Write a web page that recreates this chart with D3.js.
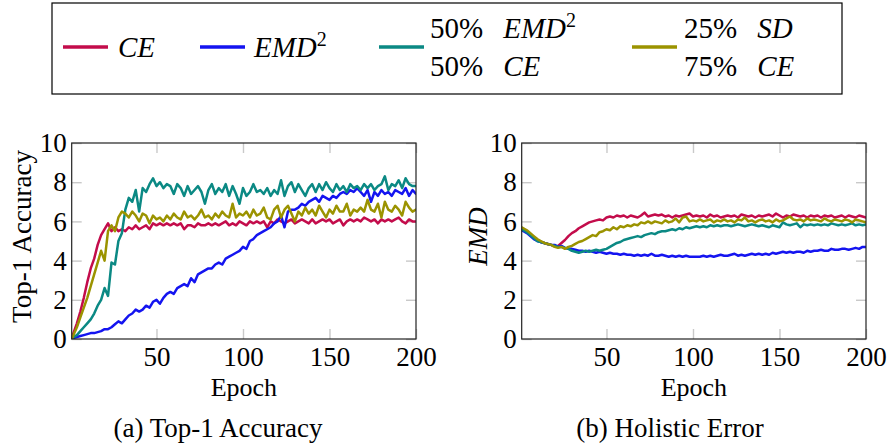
<!DOCTYPE html>
<html>
<head>
<meta charset="utf-8">
<script src="https://cdn.jsdelivr.net/npm/d3@7"></script>
<style>
  body { margin: 0; background: #fff; }
  svg { display: block; }
  text { font-family: "Liberation Serif", "Times New Roman", serif; fill: #000; }
</style>
</head>
<body>
<svg id="chart" width="888" height="446"></svg>
<script>
// Training epochs sampled for every curve
const epochs = [1].concat(d3.range(2, 201, 2));

const xTicks = [50, 100, 150, 200];
const yTicks = [0, 2, 4, 6, 8, 10];

// Top-1 accuracy per epoch
const accCE = [0.0,
  0.3,0.8,1.4,2.1,2.9,3.6,4.1,4.8,5.3,5.6,
  5.9,5.5,5.7,5.5,5.6,5.5,5.7,5.6,5.8,5.6,
  5.7,5.8,5.6,5.9,5.8,5.9,5.8,5.9,5.8,5.9,
  5.8,5.9,5.6,5.8,5.8,5.7,5.9,5.8,5.8,5.9,
  5.8,5.9,5.8,5.9,6.0,5.8,5.9,5.8,6.0,5.9,
  5.8,6.0,5.9,6.0,5.9,6.0,5.7,6.0,5.9,6.1,
  6.0,5.9,6.0,6.1,5.9,6.0,6.1,6.0,5.9,6.1,
  5.9,6.0,6.1,6.0,6.1,5.9,6.0,6.1,5.8,6.0,
  6.1,6.0,6.1,6.0,6.2,6.1,6.0,6.1,5.9,6.1,
  6.0,6.1,6.0,6.1,6.2,6.0,5.9,6.1,6.0,6.0];
const accEMD2 = [0.0,
  0.05,0.1,0.15,0.2,0.25,0.3,0.3,0.35,0.4,0.5,
  0.5,0.6,0.75,0.9,0.8,1.0,1.2,1.3,1.5,1.4,
  1.5,1.7,1.6,1.9,2.0,1.8,2.1,2.3,2.4,2.3,
  2.6,2.7,2.8,2.7,3.1,2.9,3.3,3.4,3.5,3.6,
  3.6,3.8,3.9,3.8,4.1,4.2,4.3,4.4,4.5,4.7,
  4.6,5.0,5.1,5.3,5.4,5.5,5.6,5.7,5.9,6.0,
  6.3,5.7,6.5,6.6,6.6,6.7,6.9,6.8,7.0,7.1,
  7.2,7.0,7.3,7.2,7.1,7.3,7.2,7.4,7.5,7.4,
  7.6,7.5,7.7,7.5,7.3,7.6,7.0,7.5,7.3,7.6,
  7.4,7.5,7.3,7.6,7.5,7.4,7.7,7.3,7.6,7.4];
const accMix50 = [0.0,
  0.1,0.2,0.4,0.6,0.8,1.0,1.3,1.7,2.0,2.6,
  2.2,3.9,3.8,5.0,5.4,6.6,7.2,7.0,7.6,6.5,
  7.7,7.5,7.9,8.2,7.8,8.0,7.7,7.9,7.8,7.4,
  7.9,7.7,7.3,7.8,7.4,7.6,7.8,7.5,6.9,7.6,
  7.9,7.4,7.7,7.5,7.9,7.3,7.8,7.4,6.9,7.7,
  7.3,7.5,7.9,7.5,7.6,7.4,7.7,7.3,7.6,7.4,
  8.1,7.3,7.8,8.0,7.5,7.9,7.6,7.3,7.7,7.9,
  7.5,7.9,7.6,8.0,7.7,7.5,7.9,7.6,7.8,7.5,
  7.9,7.7,7.8,7.6,7.9,7.7,7.9,7.6,7.8,7.9,
  8.3,7.6,7.9,7.8,8.1,7.7,8.2,7.9,7.8,7.8];
const accMix25 = [0.0,
  0.2,0.6,1.1,1.6,2.1,2.7,3.3,3.9,4.5,4.0,
  5.5,5.8,5.5,6.2,6.5,6.4,6.2,6.5,6.3,6.0,
  6.4,6.3,5.9,6.3,6.1,6.2,6.0,6.3,6.1,6.4,
  6.2,6.1,6.5,6.2,6.3,6.1,6.3,6.6,6.2,6.3,
  6.1,6.4,6.2,6.5,6.3,6.2,6.9,6.2,6.4,6.3,
  6.5,6.2,6.6,6.3,6.4,6.7,6.2,6.1,6.6,6.8,
  6.2,6.6,6.8,6.4,6.0,6.5,6.3,6.7,6.4,6.6,
  6.3,6.8,6.5,6.2,6.6,6.4,6.8,6.5,6.5,6.9,
  6.3,6.6,6.5,6.7,6.5,7.1,6.6,6.5,6.9,6.2,
  7.0,6.6,6.5,6.8,6.6,6.3,7.0,6.7,6.5,6.6];

// Holistic error (EMD) per epoch
const emdCE = [5.65,
  5.6,5.5,5.35,5.2,5.05,4.95,4.9,4.85,4.8,4.75,
  4.75,4.9,5.05,5.25,5.4,5.5,5.65,5.75,5.85,5.95,
  6.0,6.05,6.1,6.05,6.2,6.25,6.2,6.3,6.25,6.3,
  6.2,6.3,6.25,6.2,6.3,6.45,6.25,6.3,6.35,6.3,
  6.35,6.25,6.3,6.2,6.3,6.25,6.3,6.35,6.4,6.25,
  6.3,6.25,6.3,6.2,6.35,6.25,6.3,6.2,6.25,6.3,
  6.25,6.3,6.2,6.35,6.3,6.25,6.3,6.2,6.3,6.25,
  6.3,6.35,6.25,6.4,6.3,6.2,6.3,6.25,6.35,6.3,
  6.25,6.3,6.2,6.3,6.25,6.3,6.2,6.3,6.25,6.3,
  6.2,6.25,6.3,6.2,6.3,6.25,6.2,6.3,6.25,6.2];
const emdEMD2 = [5.55,
  5.5,5.4,5.25,5.1,5.0,4.95,4.9,4.85,4.8,4.8,
  4.7,4.75,4.65,4.6,4.6,4.55,4.5,4.5,4.45,4.5,
  4.45,4.4,4.45,4.4,4.35,4.4,4.35,4.35,4.3,4.35,
  4.3,4.3,4.25,4.3,4.25,4.3,4.25,4.35,4.25,4.25,
  4.3,4.25,4.2,4.25,4.2,4.25,4.2,4.25,4.2,4.2,
  4.2,4.2,4.25,4.2,4.25,4.2,4.25,4.3,4.25,4.25,
  4.3,4.35,4.25,4.3,4.25,4.3,4.35,4.3,4.35,4.3,
  4.35,4.3,4.4,4.35,4.4,4.45,4.4,4.45,4.4,4.45,
  4.45,4.4,4.5,4.45,4.5,4.5,4.55,4.5,4.5,4.6,
  4.55,4.55,4.6,4.6,4.55,4.6,4.65,4.6,4.7,4.7];
const emdMix50 = [5.6,
  5.55,5.45,5.3,5.15,5.0,4.95,4.9,4.85,4.8,4.75,
  4.7,4.7,4.65,4.6,4.5,4.45,4.4,4.45,4.5,4.45,
  4.5,4.55,4.5,4.55,4.6,4.7,4.8,4.9,4.95,5.05,
  5.1,5.15,5.2,5.25,5.2,5.3,5.35,5.4,5.35,5.45,
  5.5,5.5,5.55,5.6,5.55,5.65,5.6,5.7,5.65,5.7,
  5.75,5.7,5.75,5.7,5.8,5.75,5.8,5.75,5.8,5.8,
  5.75,5.8,5.85,5.8,5.75,5.8,5.85,5.8,5.75,5.8,
  5.75,5.7,5.8,5.75,5.7,5.95,5.85,5.8,5.85,5.9,
  5.7,5.85,5.8,5.85,5.8,5.85,5.8,5.85,5.8,5.9,
  5.85,5.8,5.85,5.8,5.85,5.9,5.8,5.85,5.8,5.85];
const emdMix25 = [5.7,
  5.65,5.55,5.4,5.25,5.1,5.0,4.9,4.85,4.8,4.7,
  4.65,4.7,4.6,4.7,4.75,4.85,4.95,5.0,5.1,5.2,
  5.3,5.25,5.45,5.5,5.6,5.55,5.7,5.6,5.75,5.7,
  5.8,5.75,5.85,5.8,5.95,5.9,6.0,5.9,6.0,5.95,
  5.9,6.05,5.95,6.0,6.15,5.95,6.2,6.25,6.0,6.05,
  6.0,6.1,6.0,6.05,6.1,5.95,6.05,6.0,6.1,6.0,
  6.05,5.95,6.1,6.05,6.2,6.0,6.05,5.95,6.05,6.1,
  6.0,6.05,5.95,6.1,6.0,6.05,6.15,6.25,6.1,6.05,
  6.1,6.0,6.15,6.05,6.1,6.05,6.0,6.15,6.05,6.0,
  6.1,6.05,6.0,6.1,6.05,5.95,6.1,6.05,6.0,5.95];

const colors = { ce: "#c30c4b", emd2: "#1414f0", mix50: "#0b8984", mix25: "#9b9300" };
const serif = "'Liberation Serif', 'Times New Roman', serif";

const svg = d3.select("#chart").style("font-family", serif);
const plotTop = 143, plotBottom = 339;
const fontSize = 27;

const panels = [
  { id: "acc", left: 71.7, right: 416, label: "Top-1 Accuracy", italic: false, labelX: 31,
    caption: "(a) Top-1 Accuracy", captionX: 218,
    series: [["ce", accCE], ["emd2", accEMD2], ["mix50", accMix50], ["mix25", accMix25]] },
  { id: "emd", left: 521.7, right: 866, label: "EMD", italic: true, labelX: 487,
    caption: "(b) Holistic Error", captionX: 670,
    series: [["ce", emdCE], ["emd2", emdEMD2], ["mix50", emdMix50], ["mix25", emdMix25]] }
];

function styleTicks(sel) {
  sel.select(".domain").remove();
  sel.selectAll("line").attr("stroke", "#c9c9c9").attr("stroke-width", 1.4);
}
function styleLabels(sel) {
  sel.select(".domain").remove();
  sel.selectAll("line").remove();
  sel.attr("font-family", serif).attr("font-size", fontSize);
  sel.selectAll("text").style("font-family", serif);
}

panels.forEach(p => {
  const x = d3.scaleLinear().domain([1, 200]).range([p.left, p.right]);
  const y = d3.scaleLinear().domain([0, 10]).range([plotBottom, plotTop]);
  const g = svg.append("g");

  // light inner tick marks on all four sides
  g.append("g").attr("transform", `translate(0,${plotBottom})`)
    .call(d3.axisBottom(x).tickValues(xTicks).tickSize(-10).tickFormat("")).call(styleTicks);
  g.append("g").attr("transform", `translate(0,${plotTop})`)
    .call(d3.axisTop(x).tickValues(xTicks).tickSize(-10).tickFormat("")).call(styleTicks);
  g.append("g").attr("transform", `translate(${p.left},0)`)
    .call(d3.axisLeft(y).tickValues(yTicks).tickSize(-10).tickFormat("")).call(styleTicks);
  g.append("g").attr("transform", `translate(${p.right},0)`)
    .call(d3.axisRight(y).tickValues(yTicks).tickSize(-10).tickFormat("")).call(styleTicks);

  // curves, clipped to the plot box
  const clipId = "clip-" + p.id;
  svg.append("clipPath").attr("id", clipId).append("rect")
    .attr("x", p.left).attr("y", plotTop).attr("width", p.right - p.left).attr("height", plotBottom - plotTop);
  const line = d3.line().x((d, i) => x(epochs[i])).y(d => y(d));
  const lines = g.append("g").attr("clip-path", `url(#${clipId})`);
  p.series.forEach(([key, vals]) => {
    lines.append("path").datum(vals)
      .attr("d", line)
      .attr("fill", "none")
      .attr("stroke", colors[key])
      .attr("stroke-width", 2.5)
      .attr("stroke-linejoin", "round")
      .attr("stroke-linecap", "round");
  });

  // frame
  g.append("rect").attr("x", p.left).attr("y", plotTop)
    .attr("width", p.right - p.left).attr("height", plotBottom - plotTop)
    .attr("fill", "none").attr("stroke", "#222").attr("stroke-width", 1.2);

  // tick labels
  g.append("g").attr("transform", `translate(0,${plotBottom})`)
    .call(d3.axisBottom(x).tickValues(xTicks).tickSize(0).tickPadding(8)).call(styleLabels);
  g.append("g").attr("transform", `translate(${p.left},0)`)
    .call(d3.axisLeft(y).tickValues(yTicks).tickSize(0).tickPadding(5)).call(styleLabels);

  // axis titles
  g.append("text").attr("x", (p.left + p.right) / 2).attr("y", 396)
    .attr("text-anchor", "middle").attr("font-size", 26).text("Epoch");
  g.append("text")
    .attr("transform", `translate(${p.labelX},${(plotTop + 330) / 2}) rotate(-90)`)
    .attr("text-anchor", "middle").attr("font-size", 27)
    .attr("font-style", p.italic ? "italic" : null)
    .text(p.label);

  // caption
  g.append("text").attr("x", p.captionX).attr("y", 437)
    .attr("text-anchor", "middle").attr("font-size", 27).text(p.caption);
});

// legend
const legend = svg.append("g");
legend.append("rect").attr("x", 52).attr("y", 3).attr("width", 790).attr("height", 91)
  .attr("fill", "#fff").attr("stroke", "#000").attr("stroke-width", 1.2);

const legendItems = [
  { key: "ce", x0: 63 },
  { key: "emd2", x0: 200 },
  { key: "mix50", x0: 379 },
  { key: "mix25", x0: 632 }
];
legend.selectAll("line.key").data(legendItems).join("line")
  .attr("class", "key")
  .attr("x1", d => d.x0).attr("x2", d => d.x0 + 45)
  .attr("y1", 47).attr("y2", 47)
  .attr("stroke", d => colors[d.key]).attr("stroke-width", 3.6);

const lf = 29;
function legendText(x, yBase, parts) {
  const t = legend.append("text").attr("x", x).attr("y", yBase).attr("font-size", lf);
  parts.forEach(pt => {
    const s = t.append("tspan").text(pt.text);
    if (pt.dx) s.attr("dx", pt.dx);
    if (pt.italic) s.attr("font-style", "italic");
    if (pt.sup) s.attr("font-size", 20).attr("baseline-shift", "55%");
  });
}
legendText(118, 57, [{ text: "CE", italic: true }]);
legendText(254, 57, [{ text: "EMD", italic: true }, { text: "2", sup: true }]);
legendText(430, 38, [{ text: "50%" }, { text: "EMD", italic: true, dx: 20 }, { text: "2", sup: true }]);
legendText(430, 76, [{ text: "50%" }, { text: "CE", italic: true, dx: 20 }]);
legendText(684, 38, [{ text: "25%" }, { text: "SD", italic: true, dx: 20 }]);
legendText(684, 76, [{ text: "75%" }, { text: "CE", italic: true, dx: 20 }]);
</script>
</body>
</html>
